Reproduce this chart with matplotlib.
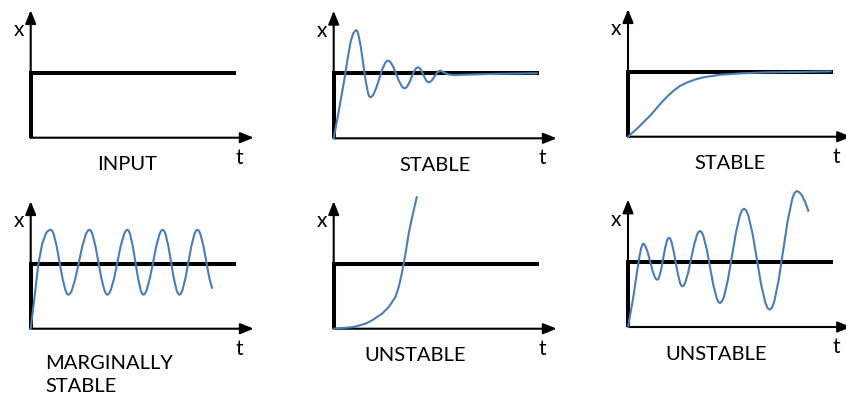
import matplotlib.pyplot as plt

plt.rcParams['font.family'] = ['Lato', 'DejaVu Sans']

# Response sketches: time t against output x, unit step input at level STEP
STEP = 65
STEP_END = 205
T_MAX = 223
X_MAX = 127.5

input_t = [0, 0, STEP_END]
input_x = [0, STEP, STEP]

# damped oscillation (stable)
damped_t = [0, 5, 10.5, 14, 17, 19.5, 22.3, 23.5, 24.7, 27.1, 29.5, 31.9, 34.3, 35.5, 36.7,
            37.9, 39.6, 42.5, 45.5, 48.4, 51.4, 52.85, 54.3, 55.7, 57.1, 59.9, 62.65, 65.4,
            68.2, 69.6, 71, 72.1, 73.2, 75.4, 77.65, 79.9, 82.1, 83.2, 84.3, 85.2, 86.1,
            87.9, 89.65, 91.4, 93.2, 94.1, 95, 96, 96.95, 98.9, 100.85, 102.8, 104.75,
            105.7, 106.7, 110, 114, 120, 135, 155, 180, 203]
damped_x = [0, 27, 58, 80, 97, 105, 108.3, 107.2, 103.8, 91.5, 74.7, 57.8, 45.5, 42.1, 41,
            41.6, 43.5, 50.2, 59.4, 68.5, 75.2, 77.1, 77.7, 77.2, 75.8, 70.8, 63.9, 56.9,
            51.9, 50.5, 50, 50.4, 51.4, 55.3, 60.5, 65.8, 69.6, 70.6, 71, 70.7, 70,
            67.3, 63.5, 59.8, 57, 56.3, 56, 56.2, 56.8, 58.9, 61.9, 64.8, 66.9,
            67.5, 67.7, 66, 64, 63.2, 63.7, 64.3, 64.7, 65]

# overdamped rise (stable)
smooth_t = [0, 9.3, 22.7, 32.7, 40, 46, 52, 59.3, 67, 76, 92.7, 112.7, 136, 169.3, 202.7]
smooth_x = [0, 8.3, 21.7, 33.3, 41, 46.3, 50.8, 54.3, 57.2, 59.5, 62, 63.3, 64.3, 64.7, 65.3]

# sustained oscillation (marginally stable)
sustained_t = [0, 4, 7.7, 11.5, 15.5, 18, 20,
               21.5, 22.95, 25.9, 28.85, 31.8, 34.75, 36.2, 37.7,
               39.45, 41.2, 44.7, 48.2, 51.7, 55.2, 56.95, 58.7,
               60.2, 61.7, 64.7, 67.7, 70.7, 73.7, 75.2, 76.7,
               78.35, 80, 83.4, 86.7, 90, 93.4, 95.05, 96.7,
               98.05, 99.4, 102, 104.7, 107.4, 110, 111.35, 112.7,
               114.3, 115.9, 119.1, 122.4, 125.6, 128.8, 130.4, 132,
               133.4, 134.8, 137.6, 140.4, 143.1, 145.9, 147.3, 148.7,
               150.2, 151.7, 154.7, 157.7, 160.7, 163.7, 165.2, 166.7,
               168.2, 169.7, 172.7, 175.7, 178.7, 181.3]
sustained_x = [0, 33, 65, 85, 96, 98.3, 99,
               97.9, 94.6, 82.8, 66.5, 50.3, 38.4, 35.1, 34,
               35.1, 38.4, 50.3, 66.5, 82.8, 94.6, 97.9, 99,
               97.9, 94.6, 82.8, 66.5, 50.3, 38.4, 35.1, 34,
               35.1, 38.4, 50.3, 66.5, 82.8, 94.6, 97.9, 99,
               97.9, 94.6, 82.8, 66.5, 50.3, 38.4, 35.1, 34,
               35.1, 38.4, 50.3, 66.5, 82.8, 94.6, 97.9, 99,
               97.9, 94.6, 82.8, 66.5, 50.3, 38.4, 35.1, 34,
               35.1, 38.4, 50.3, 66.5, 82.8, 94.6, 97.9, 99,
               97.9, 94.6, 82.8, 66.5, 50.3, 41]

# runaway growth (unstable)
growth_t = [0, 20, 31.7, 38.3, 48.3, 55, 61.7, 65, 67.7, 70, 72.3, 75, 77.7, 80, 83]
growth_x = [0, 1.7, 5, 8.3, 15, 21.7, 31.7, 41.7, 53.3, 65, 78.3, 95, 108.3, 118.3, 131.4]

# growing oscillation (unstable)
growing_t = [0, 5, 9, 11.5, 13.3, 15,
             16.2, 17.4, 19.8, 22.2, 24.5, 26.9, 28.1, 29.3,
             30.3, 31.25, 33.2, 35.15, 37.1, 39.05, 40, 41,
             42.1, 43.2, 45.4, 47.65, 49.9, 52.1, 53.2, 54.3,
             55.8, 57.25, 60.2, 63.15, 66.1, 69.05, 70.5, 72,
             73.7, 75.3, 78.7, 82, 85.3, 88.7, 90.3, 92,
             94, 96, 100, 104, 108, 112, 114, 116,
             118.15, 120.3, 124.6, 128.85, 133.1, 137.4, 139.55, 141.7,
             143.95, 146.2, 150.7, 155.2, 159.7, 164.2, 166.45, 168.7,
             171.2, 173.7, 177, 180.3]
growing_x = [0, 28, 55, 71, 79.5, 83.3,
             82.7, 80.9, 74.3, 65.3, 56.3, 49.7, 47.9, 47.3,
             48, 50.1, 57.8, 68.3, 78.8, 86.5, 88.6, 89.3,
             88.5, 86, 77.1, 65, 52.9, 44, 41.5, 40.7,
             41.6, 44.4, 54.5, 68.4, 82.2, 92.3, 95.1, 96,
             94.8, 91.2, 78, 60, 42, 28.8, 25.2, 24,
             25.6, 30.3, 47.6, 71.2, 94.7, 112, 116.7, 118.3,
             116.6, 111.5, 93.1, 67.8, 42.6, 24.1, 19, 17.3,
             19.3, 25.3, 47, 76.7, 106.3, 128, 134, 136,
             134.8, 132, 125.3, 116.3]

panels = [
    # origin (px), label, label x, label baseline, label alignment, response
    ((30.7, 137.7), 'INPUT', 96.3, -32.5, 'center', None),
    ((333.7, 138.3), 'STABLE', 101.6, -32.5, 'center', (damped_t, damped_x)),
    ((628, 136.7), 'STABLE', 101.8, -32.5, 'center', (smooth_t, smooth_x)),
    ((30.7, 328.7), 'MARGINALLY\nSTABLE', 14.3, -63.3, 'left', (sustained_t, sustained_x)),
    ((333.7, 328.7), 'UNSTABLE', 81.6, -32.5, 'center', (growth_t, growth_x)),
    ((628, 327), 'UNSTABLE', 88.5, -32.5, 'center', (growing_t, growing_x)),
]

W, H = 846, 394
fig = plt.figure(figsize=(W / 100, H / 100), dpi=100)
curve_color = '#4a7db5'
arrow = dict(arrowstyle='-|>,head_length=0.42,head_width=0.17', color='black',
             lw=1.5, mutation_scale=19, shrinkA=0, shrinkB=0)

for (ox, oy), label, lx, ly, ha, resp in panels:
    ax = fig.add_axes([ox / W, (H - oy) / H, T_MAX / W, X_MAX / H])
    ax.set_xlim(0, T_MAX)
    ax.set_ylim(0, X_MAX)
    ax.axis('off')

    ax.annotate('', xy=(T_MAX, 0), xytext=(0, 0), arrowprops=arrow,
                annotation_clip=False)
    ax.annotate('', xy=(0, X_MAX), xytext=(0, 0), arrowprops=arrow,
                annotation_clip=False)

    ax.plot(input_t, input_x, color='black', lw=2.9, solid_joinstyle='miter',
            solid_capstyle='butt', clip_on=False, zorder=3)
    if resp is not None:
        ax.plot(resp[0], resp[1], color=curve_color, lw=1.5, clip_on=False, zorder=4)

    ax.text(-12, 101.5, 'x', fontsize=15, ha='center', va='baseline')
    ax.text(208.5, -26, 't', fontsize=15, ha='center', va='baseline')
    ax.text(lx, ly, label, fontsize=14.5, ha=ha, va='baseline', linespacing=1.45)

fig.savefig('out.png', dpi=100)
